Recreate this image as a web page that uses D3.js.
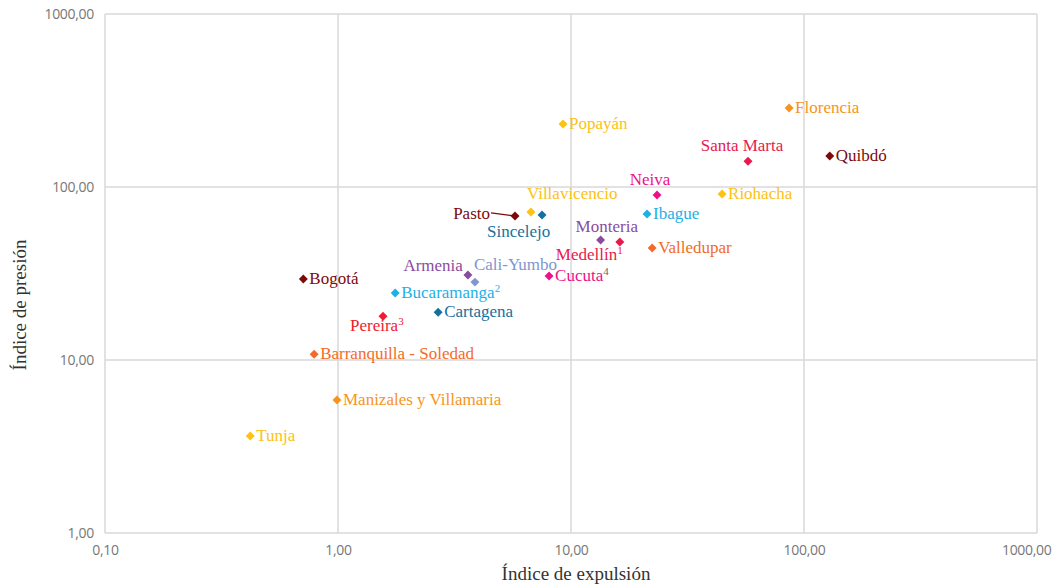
<!DOCTYPE html>
<html>
  <head>
    <meta charset="utf-8">
    <title>Índice de presión vs índice de expulsión</title>
    <script src="https://cdn.jsdelivr.net/npm/d3@7"></script>
    <style>
      body { margin: 0; background: #fff; }
      .tick text { font-family: "Open Sans", sans-serif; font-size: 14px; fill: #777; letter-spacing: -0.3px; }
      .grid line { stroke: #d9d9d9; stroke-width: 1.5; }
      .lbl { font-family: "Liberation Serif", serif; font-size: 17px; }
      .axis-title { font-family: "Liberation Serif", serif; font-size: 19px; fill: #333; }
    </style>
  </head>
  <body>
    <svg id="svg" width="1052" height="587"></svg>
    <script>
      // data
      var cities = ["Bogotá", "Barranquilla - Soledad", "Manizales y Villamaria", "Tunja", "Pereira",
        "Bucaramanga", "Cartagena", "Armenia", "Cali-Yumbo", "Pasto", "Villavicencio", "Sincelejo",
        "Popayán", "Cucuta", "Monteria", "Medellín", "Neiva", "Ibague", "Valledupar", "Santa Marta",
        "Riohacha", "Florencia", "Quibdó"];
      var expulsion = [0.71, 0.79, 0.99, 0.42, 1.56, 1.76, 2.69, 3.61, 3.87, 5.75, 6.73, 7.51,
        9.24, 8.05, 13.4, 16.2, 23.4, 21.2, 22.3, 57.5, 44.5, 86.3, 129];
      var presion = [29.4, 10.8, 5.87, 3.64, 17.9, 24.4, 18.9, 31.0, 28.2, 68.0, 71.7, 68.9,
        231, 30.6, 49.4, 48.1, 89.9, 69.8, 44.4, 141, 91.1, 286, 151];
      var notes = ["", "", "", "", "3", "2", "", "", "", "", "", "", "", "4", "", "1", "", "", "", "", "", "", ""];
      var xTicks = [0.1, 1, 10, 100, 1000];
      var yTicks = [1, 10, 100, 1000];

      // colours per city
      var colour = {
        "Bogotá": "#7d0a0a", "Pasto": "#7d0a0a", "Quibdó": "#7d0a0a",
        "Barranquilla - Soledad": "#f26b2a", "Valledupar": "#f26b2a",
        "Manizales y Villamaria": "#f7941d", "Florencia": "#f7941d",
        "Tunja": "#fdc212", "Popayán": "#fdc212", "Villavicencio": "#fdc212", "Riohacha": "#fdc212",
        "Pereira": "#ee1c2e", "Medellín": "#e8194f", "Santa Marta": "#e8194f",
        "Bucaramanga": "#1db0e8", "Ibague": "#1db0e8",
        "Cartagena": "#14719f", "Sincelejo": "#14719f",
        "Armenia": "#8b4b9e", "Monteria": "#8b4b9e",
        "Cali-Yumbo": "#7f96cf",
        "Cucuta": "#ec118a", "Neiva": "#ec118a"
      };
      // label placement: dx, dy of text anchor, anchor
      var place = {
        "Armenia": [-5, -4, "end"], "Cali-Yumbo": [-1, -12, "start"], "Pereira": [-33, 15, "start"],
        "Pasto": [-25, 3, "end"], "Villavicencio": [-4, -13, "start"], "Sincelejo": [-55, 22, "start"],
        "Monteria": [-25, -8, "start"], "Medellín": [-64, 18, "start"], "Neiva": [-7, -10, "middle"],
        "Santa Marta": [-6, -10, "middle"]
      };

      var svg = d3.select("#svg");
      var x = d3.scaleLog().domain([0.1, 1000]).range([105, 1037]);
      var y = d3.scaleLog().domain([1, 1000]).range([533, 14]);
      var fmt = function(d) { return d3.format(".2f")(d).replace(".", ","); };

      // grid
      svg.append("g").attr("class", "grid").selectAll("line").data(xTicks).enter().append("line")
        .attr("x1", function(d) { return x(d); }).attr("x2", function(d) { return x(d); })
        .attr("y1", y(1000)).attr("y2", y(1));
      svg.append("g").attr("class", "grid").selectAll("line").data(yTicks).enter().append("line")
        .attr("y1", function(d) { return y(d); }).attr("y2", function(d) { return y(d); })
        .attr("x1", x(0.1)).attr("x2", x(1000));

      // axes
      var xAxis = svg.append("g").attr("transform", "translate(0," + y(1) + ")")
        .call(d3.axisBottom(x).tickValues(xTicks).tickFormat(fmt).tickSize(0).tickPadding(12));
      xAxis.selectAll(".tick text").filter(function(d) { return d == 1000; })
        .attr("text-anchor", "end").attr("dx", 14);
      var yAxis = svg.append("g").attr("transform", "translate(" + x(0.1) + ",0)")
        .call(d3.axisLeft(y).tickValues(yTicks).tickFormat(fmt).tickSize(0).tickPadding(11));
      svg.selectAll(".domain").remove();

      svg.append("text").attr("class", "axis-title").attr("x", 576).attr("y", 580)
        .attr("text-anchor", "middle").text("Índice de expulsión");
      svg.append("text").attr("class", "axis-title").attr("text-anchor", "middle")
        .attr("transform", "translate(26,305) rotate(-90)").text("Índice de presión");

      var pts = cities.map(function(c, i) {
        return { name: c, x: expulsion[i], y: presion[i], note: notes[i] };
      });

      // Pasto leader line
      svg.append("line").attr("x1", x(5.75) - 24).attr("y1", y(68) - 3)
        .attr("x2", x(5.75)).attr("y2", y(68))
        .attr("stroke", colour["Pasto"]).attr("stroke-width", 1.3);

      var diamond = d3.symbol().type(d3.symbolSquare).size(40);
      svg.append("g").selectAll("path").data(pts).enter().append("path")
        .attr("d", diamond)
        .attr("transform", function(d) { return "translate(" + x(d.x) + "," + y(d.y) + ") rotate(45)"; })
        .attr("fill", function(d) { return colour[d.name]; });

      var labels = svg.append("g").selectAll("text").data(pts).enter().append("text")
        .attr("class", "lbl")
        .attr("fill", function(d) { return colour[d.name]; })
        .attr("x", function(d) { return x(d.x) + (place[d.name] ? place[d.name][0] : 6); })
        .attr("y", function(d) { return y(d.y) + (place[d.name] ? place[d.name][1] : 5); })
        .attr("text-anchor", function(d) { return place[d.name] ? place[d.name][2] : "start"; })
        .text(function(d) { return d.name; });
      labels.filter(function(d) { return d.note; }).append("tspan")
        .attr("dy", -6).attr("font-size", 11)
        .attr("fill", function(d) { return d.name == "Cucuta" ? "#666" : colour[d.name]; })
        .text(function(d) { return d.note; });
    </script>
  </body>
</html>
